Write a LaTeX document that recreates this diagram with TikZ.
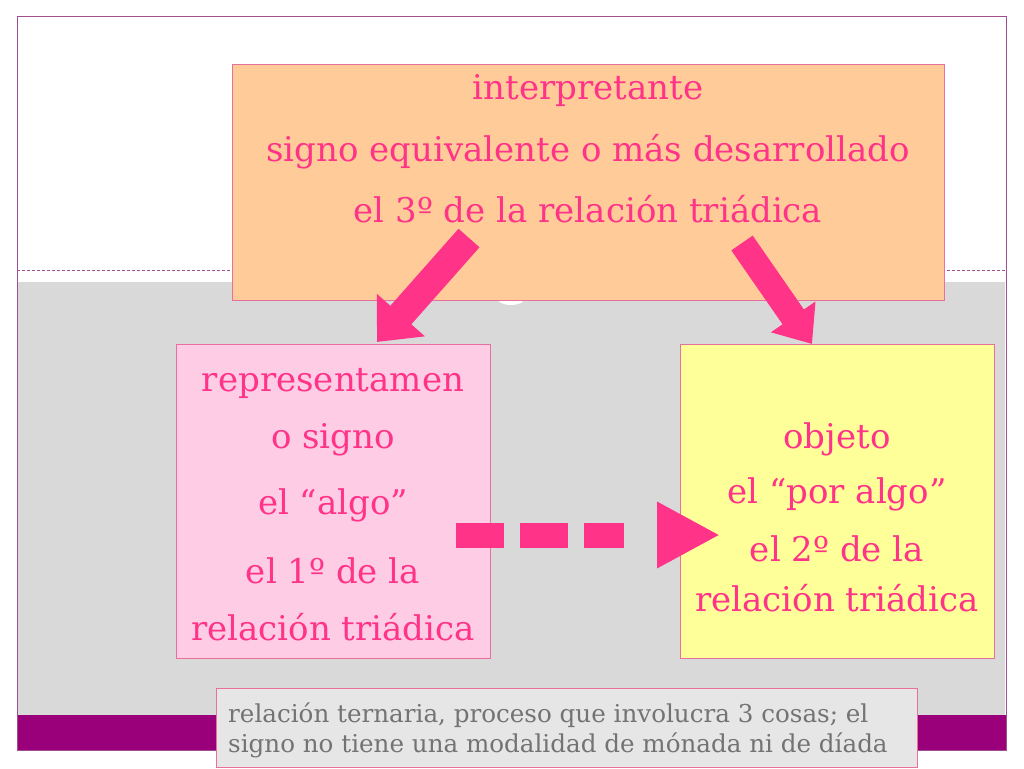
\documentclass[tikz,border=0pt]{standalone}
\usepackage{fontspec}
\setmainfont{DejaVu Serif}
\usetikzlibrary{arrows.meta}
\definecolor{rosa}{HTML}{FF3388}
\definecolor{borde}{HTML}{E8709C}
\definecolor{naranja}{HTML}{FFCC99}
\definecolor{rosaclaro}{HTML}{FFCCE6}
\definecolor{amarillo}{HTML}{FFFF99}
\definecolor{gris}{HTML}{D9D9D9}
\definecolor{grisclaro}{HTML}{E6E6E6}
\definecolor{morado}{HTML}{99007A}
\definecolor{marco}{HTML}{A0508F}
\begin{document}
\begin{tikzpicture}[x=1pt, y=-1pt,
    caja/.style = {draw=borde, line width=1pt, minimum width=314pt, minimum height=314pt, inner sep=0pt},
    texto/.style = {text=rosa, align=center, inner sep=0pt, font=\fontsize{34}{57}\selectfont},
    flecha/.style = {rosa, line width=28pt, -{Triangle[length=36pt, width=62pt]}}]
    \useasboundingbox (0,0) rectangle (1024,768);
    % Fondo
    \fill[white] (0,0) rectangle (1024,768);
    \fill[gris] (18,282) rectangle (1005,715);
    \fill[morado] (17,715) rectangle (1006,750);
    \draw[marco, line width=1pt] (17,17) rectangle (1006,750);
    \draw[marco, line width=1pt, dash pattern=on 3pt off 2pt] (17,270) -- (1006,270);
    \fill[white] (511,298) ellipse (14 and 7);

    % Nodes
    \node[caja, fill=naranja, minimum width=712pt, minimum height=236pt] (interp) at (588,182) {};
    \node[caja, fill=rosaclaro] (repr) at (333,501) {};
    \node[caja, fill=amarillo] (obj) at (837,501) {};
    \node[draw=borde, line width=1pt, fill=grisclaro, minimum width=701pt, minimum height=79pt, inner sep=0pt] (nota) at (566.5,727.5) {};

    \node[texto, font=\fontsize{34}{61.5}\selectfont] (interp-txt) at (588,149) {interpretante\\signo equivalente o más desarrollado\\el 3º de la relación triádica};
    \node[texto] (repr-txt) at (333,505) {representamen\\o signo\\[9pt]el “algo”\\[12pt]el 1º de la\\relación triádica};
    \node[texto, font=\fontsize{34}{55}\selectfont] (obj-txt) at (837,517) {objeto\\el “por algo”\\[3pt]el 2º de la\\[-5pt]relación triádica};
    \node[text=gray!90!black, align=left, anchor=west, inner sep=0pt, font=\fontsize{24.6}{30}\selectfont] (nota-txt) at (228,730) {relación ternaria, proceso que involucra 3 cosas; el\\signo no tiene una modalidad de mónada ni de díada};

    % Flechas
    \coordinate (c1) at (469,238);
    \coordinate (c2) at (377,342);
    \coordinate (c3) at (742,243);
    \coordinate (c4) at (812,344);
    \coordinate (c5) at (456,535);
    \coordinate (c6) at (720,535);
    \draw[flecha] (c1) -- (c2);
    \draw[flecha, line width=26pt, -{Triangle[length=33pt, width=52pt]}] (c3) -- (c4);
    \draw[rosa, line width=25pt, dash pattern=on 48pt off 16pt on 48pt off 16pt on 40pt off 60pt, -{Triangle[length=63pt, width=62pt]}] (c5) -- (c6);
\end{tikzpicture}
\end{document}
